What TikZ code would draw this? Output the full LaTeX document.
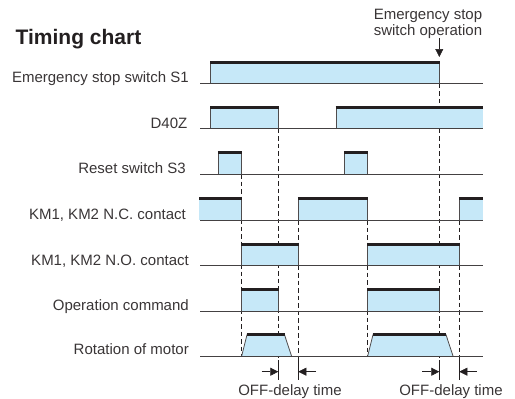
\documentclass[tikz,border=0pt]{standalone}
\usepackage{fontspec}
\setmainfont{Liberation Sans}
\usetikzlibrary{arrows.meta}
\definecolor{fillblue}{HTML}{C6E8F8}
\definecolor{ink}{HTML}{231F20}
\tikzset{
  x=1pt,y=-1pt,
  sig/.style={fill=fillblue,draw=ink!80,line width=0.8pt},
  topbar/.style={ink,line width=2.8pt},
  baseline rule/.style={ink!85,line width=1pt},
  guide/.style={ink,line width=0.7pt,dash pattern=on 4.5pt off 3pt},
  dimline/.style={ink,line width=0.5pt},
  arrowline/.style={-{Triangle[length=8pt,width=8pt]},ink,line width=0.5pt},
  lab/.style={font=\fontsize{15}{15.5}\selectfont,text=ink!90,inner sep=0pt,anchor=base east},
  note/.style={font=\fontsize{15}{15.5}\selectfont,text=ink!90,inner sep=0pt,anchor=base,align=center},
}
\begin{document}
\begin{tikzpicture}
\useasboundingbox (0,0) rectangle (515,399);
% dashed guide lines
\draw[guide] (241.7,174) -- (241.7,356);
\draw[guide] (278.3,128.7) -- (278.3,380);
\draw[guide] (298.3,265.7) -- (298.3,380);
\draw[guide] (298.3,220) -- (298.3,244);
\draw[guide] (367.7,220) -- (367.7,356);
\draw[guide] (439.3,83.5) -- (439.3,380);
\draw[guide] (459.3,220) -- (459.3,380);
% row 1
\draw[sig] (210.7,83.5) -- (210.7,62.4) -- (439.3,62.4) -- (439.3,83.5);
\draw[topbar] (210.2,62.4) -- (439.8,62.4);
\draw[baseline rule] (200,83.5) -- (482.7,83.5);
% row 2
\draw[sig] (210.7,128.7) -- (210.7,107.5) -- (278.3,107.5) -- (278.3,128.7);
\fill[fillblue] (336,128.7) rectangle (483,107.5);
\draw[sig,fill=none] (336,128.7) -- (336,107.5) -- (483,107.5);
\draw[topbar] (210.2,107.5) -- (278.8,107.5);
\draw[topbar] (335.5,107.5) -- (483,107.5);
\draw[baseline rule] (200,128.7) -- (482.7,128.7);
% row 3
\draw[sig] (218.3,174) -- (218.3,152.7) -- (241.7,152.7) -- (241.7,174);
\draw[topbar] (217.8,152.7) -- (242.2,152.7);
\draw[sig] (344.3,174) -- (344.3,152.7) -- (367.7,152.7) -- (367.7,174);
\draw[topbar] (343.8,152.7) -- (368.2,152.7);
\draw[baseline rule] (200,174) -- (482.7,174);
% row 4
\fill[fillblue] (199,220) rectangle (241.7,198.5);
\draw[sig] (241.7,220) -- (241.7,198.5);
\draw[topbar] (199,198.5) -- (242.2,198.5);
\draw[sig] (298.3,220) -- (298.3,198.5) -- (367.7,198.5) -- (367.7,220);
\draw[topbar] (297.8,198.5) -- (368.2,198.5);
\fill[fillblue] (459.3,220) rectangle (483,198.5);
\draw[sig,fill=none] (459.3,220) -- (459.3,198.5) -- (483,198.5);
\draw[topbar] (458.8,198.5) -- (483,198.5);
\draw[baseline rule] (200,220) -- (482.7,220);
% row 5
\draw[sig] (241.7,265.7) -- (241.7,244.4) -- (298.3,244.4) -- (298.3,265.7);
\draw[topbar] (241.2,244.4) -- (298.8,244.4);
\draw[sig] (367.7,265.7) -- (367.7,244.4) -- (459.3,244.4) -- (459.3,265.7);
\draw[topbar] (367.2,244.4) -- (459.8,244.4);
\draw[baseline rule] (200,265.7) -- (482.7,265.7);
% row 6
\draw[sig] (241.7,311) -- (241.7,289.5) -- (278.3,289.5) -- (278.3,311);
\draw[topbar] (241.2,289.5) -- (278.8,289.5);
\draw[sig] (367.7,311) -- (367.7,289.5) -- (439.3,289.5) -- (439.3,311);
\draw[topbar] (367.2,289.5) -- (439.8,289.5);
\draw[baseline rule] (200,311) -- (482.7,311);
% row 7
\draw[sig] (241.7,356) -- (247,334.7) -- (284.5,334.7) -- (291.5,356);
\draw[topbar] (246.7,334.7) -- (284.8,334.7);
\draw[sig] (367.7,356) -- (373,334.7) -- (446,334.7) -- (453,356);
\draw[topbar] (372.7,334.7) -- (446.3,334.7);
\draw[baseline rule] (200,356) -- (482.7,356);
% OFF-delay dimension arrows
\draw[dimline] (278.3,360) -- (278.3,380);
\draw[dimline] (298.3,360) -- (298.3,380);
\draw[dimline] (439.3,360) -- (439.3,380);
\draw[dimline] (459.3,360) -- (459.3,380);
\draw[arrowline] (261.7,371.7) -- (278.3,371.7);
\draw[arrowline] (316,371.7) -- (298.3,371.7);
\draw[arrowline] (422.3,371.7) -- (439.3,371.7);
\draw[arrowline] (476.7,371.7) -- (459.3,371.7);
% emergency arrow
\draw[arrowline] (439.3,38) -- (439.3,57);
% labels
\node[font=\bfseries\fontsize{21}{24}\selectfont,text=ink,inner sep=0pt,anchor=base west] (title) at (15.5,44) {Timing chart};
\node[note] (op) at (428,35) {Emergency stop\\switch operation};
\node[lab] (l1) at (189,82.5) {Emergency stop switch S1};
\node[lab] (l2) at (187.5,128) {D40Z};
\node[lab] (l3) at (186,173.5) {Reset switch S3};
\node[lab] (l4) at (186,219.5) {KM1, KM2 N.C. contact};
\node[lab] (l5) at (189,265.5) {KM1, KM2 N.O. contact};
\node[lab] (l6) at (189,310.5) {Operation command};
\node[lab] (l7) at (189,354.5) {Rotation of motor};
\node[note] (d1) at (290,395.5) {OFF-delay time};
\node[note] (d2) at (451,395.5) {OFF-delay time};
\end{tikzpicture}
\end{document}
